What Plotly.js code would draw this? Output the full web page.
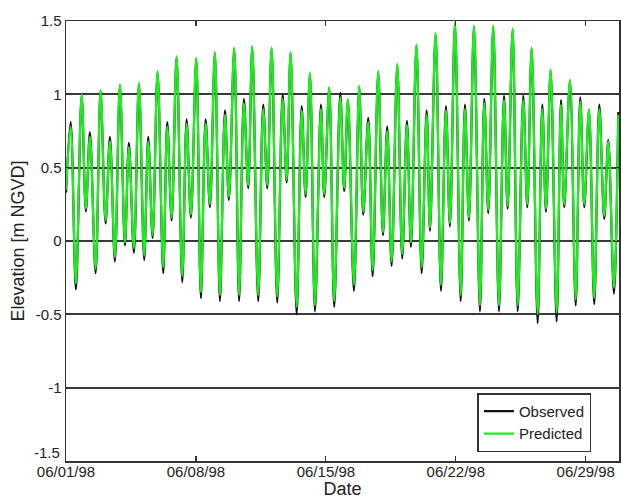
<!DOCTYPE html>
<html>
<head>
<meta charset="utf-8">
<script src="https://cdn.plot.ly/plotly-3.0.1.min.js"></script>
<style>html,body{margin:0;padding:0;background:#fff;}#chart{width:621px;height:502px;}</style>
</head>
<body>
<div id="chart"></div>
<script>
// Hours after 1998-06-01 00:00 of each high / low water
const hours = [0, 6.0, 12.8, 20.2, 25.7, 30.9, 38.3, 44.7, 51.2, 56.8, 63.2, 69.7, 76.2, 81.3, 87.8, 94.3, 101.1, 106.3, 112.0, 118.4,
  125.7, 130.9, 136.6, 143.0, 150.3, 155.9, 161.5, 168.4, 174.4, 180.5, 186.1, 192.5, 199.0, 205.5, 210.6, 217.5, 223.8, 230.0, 235.6, 240.8,
  248.5, 255.0, 260.2, 265.9, 273.1, 280.1, 285.3, 290.4, 298.2, 304.7, 309.8, 315.4, 321.9, 329.6, 333.9, 340.3, 346.8, 354.6, 359.7, 364.5,
  372.3, 379.1, 384.3, 390.8, 396.5, 403.7, 409.8, 415.3, 421.0, 428.3, 434.7, 440.8, 446.0, 453.1, 459.8, 466.3, 470.6, 477.9, 484.8, 491.2,
  496.4, 502.9, 510.3, 515.8, 521.0, 527.5, 535.2, 540.8, 546.0, 552.4, 559.8, 566.3, 571.0, 577.5, 584.0, 591.2, 596.4, 602.1, 609.8, 615.8,
  620.6, 626.6, 634.4, 640.0, 644.2, 651.6, 659.0, 664.9, 670.1, 676.2, 683.0, 689.5, 695.9, 701.1, 708.5, 714.1];

const observed = [0.33, 0.81, -0.33, 0.99, 0.20, 0.74, -0.22, 1.02, 0.12, 0.71, -0.14, 1.06, -0.03, 0.67, -0.08, 1.07, -0.13, 0.71, 0.02, 1.15,
  -0.22, 0.81, 0.14, 1.25, -0.28, 0.83, 0.16, 1.24, -0.39, 0.83, 0.23, 1.28, -0.41, 0.89, 0.28, 1.31, -0.41, 0.97, 0.36, 1.32,
  -0.41, 0.93, 0.36, 1.31, -0.42, 1.00, 0.40, 1.28, -0.50, 0.92, 0.30, 1.14, -0.48, 0.93, 0.30, 1.04, -0.45, 1.01, 0.34, 0.96,
  -0.34, 1.05, 0.18, 0.84, -0.24, 1.15, 0.04, 0.78, -0.17, 1.20, -0.12, 0.82, -0.04, 1.33, -0.22, 0.89, 0.07, 1.41, -0.34, 0.92,
  0.10, 1.48, -0.41, 0.93, 0.14, 1.46, -0.48, 0.97, 0.19, 1.46, -0.48, 0.99, 0.22, 1.44, -0.48, 0.99, 0.23, 1.31, -0.56, 0.93,
  0.20, 1.16, -0.55, 0.96, 0.23, 1.09, -0.44, 0.98, 0.23, 0.89, -0.43, 0.93, 0.15, 0.69, -0.36, 0.88];

const predicted = [0.35, 0.78, -0.29, 1.00, 0.22, 0.71, -0.19, 1.03, 0.14, 0.68, -0.11, 1.07, -0.01, 0.64, -0.05, 1.08, -0.10, 0.68, 0.04, 1.16,
  -0.18, 0.78, 0.16, 1.26, -0.24, 0.80, 0.18, 1.25, -0.35, 0.80, 0.25, 1.29, -0.37, 0.86, 0.30, 1.32, -0.37, 0.94, 0.38, 1.33,
  -0.37, 0.90, 0.38, 1.32, -0.38, 0.97, 0.42, 1.29, -0.45, 0.89, 0.32, 1.15, -0.44, 0.90, 0.32, 1.05, -0.41, 0.98, 0.36, 0.97,
  -0.30, 1.06, 0.20, 0.81, -0.20, 1.16, 0.06, 0.75, -0.14, 1.21, -0.09, 0.79, -0.01, 1.34, -0.18, 0.86, 0.09, 1.42, -0.30, 0.89,
  0.12, 1.49, -0.37, 0.90, 0.16, 1.47, -0.44, 0.94, 0.21, 1.47, -0.44, 0.96, 0.24, 1.45, -0.44, 0.96, 0.25, 1.32, -0.50, 0.90,
  0.22, 1.17, -0.49, 0.93, 0.25, 1.10, -0.40, 0.95, 0.25, 0.90, -0.39, 0.90, 0.17, 0.68, -0.32, 0.86];

const tickDates = ['1998-06-01', '1998-06-08', '1998-06-15', '1998-06-22', '1998-06-29'];
const tickLabels = ['06/01/98', '06/08/98', '06/15/98', '06/22/98', '06/29/98'];
const yTicks = [-1.5, -1, -0.5, 0, 0.5, 1, 1.5];
const yTickLabels = ['', '-1', '-0.5', '0', '0.5', '1', '1.5'];
const bottomLabel = '-1.5';

const t0 = Date.UTC(1998, 5, 1);
const times = hours.map(h => new Date(t0 + h * 3600000).toISOString().slice(0, 19).replace('T', ' '));

const font = 'Liberation Sans, Arial, sans-serif';
const traces = [
  {x: times, y: observed, type: 'scatter', mode: 'lines', name: 'Observed',
   line: {color: '#111111', width: 2.2, shape: 'spline', smoothing: 1}},
  {x: times, y: predicted, type: 'scatter', mode: 'lines', name: 'Predicted',
   line: {color: '#1cf01c', width: 2.2, shape: 'spline', smoothing: 1}}
];

const layout = {
  width: 621, height: 502,
  margin: {l: 66, r: 2, t: 21, b: 41},
  paper_bgcolor: '#ffffff', plot_bgcolor: '#ffffff',
  font: {family: font, size: 15, color: '#222'},
  showlegend: true,
  legend: {x: 0.95, xanchor: 'right', y: 0.02, yanchor: 'bottom',
           bgcolor: '#ffffff', bordercolor: '#333', borderwidth: 1.6,
           font: {family: font, size: 15, color: '#222'}, itemwidth: 30, tracegroupgap: 0},
  annotations: [{xref: 'paper', yref: 'y', x: 0, y: -1.5, text: bottomLabel, showarrow: false,
                 xanchor: 'right', yanchor: 'middle', xshift: -4, yshift: 9,
                 font: {family: font, size: 15, color: '#222'}}],
  xaxis: {
    type: 'date', range: ['1998-06-01 00:00', '1998-06-30 19:00'],
    tickmode: 'array', tickvals: tickDates, ticktext: tickLabels,
    ticks: 'inside', ticklen: 5, tickcolor: '#333', tickwidth: 1.2,
    showline: true, linecolor: '#333', linewidth: 1.5, mirror: 'ticks',
    showgrid: false, zeroline: false, ticklabelstandoff: -4,
    tickfont: {family: font, size: 15, color: '#222'},
    title: {text: 'Date', font: {family: font, size: 18, color: '#222'}, standoff: 0}
  },
  yaxis: {
    range: [-1.5, 1.5], tickmode: 'array', tickvals: yTicks, ticktext: yTickLabels,
    ticks: 'inside', ticklen: 5, tickcolor: '#333',
    showline: true, linecolor: '#333', linewidth: 1.5, mirror: 'ticks',
    showgrid: true, gridcolor: '#3a3a3a', gridwidth: 2, zeroline: false,
    tickfont: {family: font, size: 15, color: '#222'},
    title: {text: 'Elevation [m NGVD]', font: {family: font, size: 18, color: '#222'}, standoff: 6}
  }
};

Plotly.newPlot('chart', traces, layout, {displayModeBar: false, staticPlot: true});
</script>
</body>
</html>
